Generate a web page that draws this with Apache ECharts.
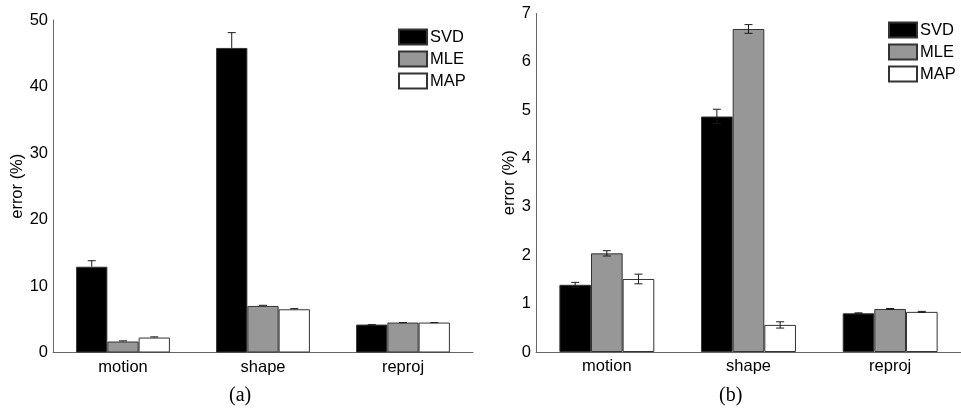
<!DOCTYPE html>
<html>
<head>
<meta charset="utf-8">
<script src="https://cdn.jsdelivr.net/npm/echarts@6/dist/echarts.min.js"></script>
<style>html,body{margin:0;padding:0;background:#fff}#c{width:961px;height:416px}</style>
</head>
<body>
<div id="c"></div>
<script>
const categories = ['motion', 'shape', 'reproj'];
const seriesNames = ['SVD', 'MLE', 'MAP'];

// panel (a)
const aSVD = [12.9, 45.8, 4.2];
const aSVDErr = [0.9, 2.3, 0.0];
const aMLE = [1.65, 7.0, 4.5];
const aMLEErr = [0.1, 0.1, 0.0];
const aMAP = [2.25, 6.5, 4.5];
const aMAPErr = [0.1, 0.1, 0.0];

// panel (b)
const bSVD = [1.39, 4.87, 0.80];
const bSVDErr = [0.05, 0.15, 0.01];
const bMLE = [2.04, 6.68, 0.89];
const bMLEErr = [0.055, 0.09, 0.01];
const bMAP = [1.51, 0.56, 0.83];
const bMAPErr = [0.1, 0.065, 0.01];

const yTicksA = {min: 0, max: 50, interval: 10};
const yTicksB = {min: 0, max: 7, interval: 1};

const fills = ['#000000', '#979797', '#ffffff'];
const CAT_GAP = 0.33;

const font = 'Liberation Sans, Arial, Helvetica, sans-serif';
const FS = 16.5;

function barSeries(name, data, idx, color) {
  return {
    type: 'bar', name: name, xAxisIndex: idx, yAxisIndex: idx,
    data: data, barGap: '0%', barCategoryGap: (CAT_GAP * 100) + '%',
    itemStyle: {color: color, borderColor: '#333', borderWidth: 1},
    emphasis: {disabled: true}, z: 2
  };
}

function errSeries(vals, errs, idx, pos, upOnly) {
  return {
    type: 'custom', xAxisIndex: idx, yAxisIndex: idx, z: 5, silent: true,
    data: vals.map((v, i) => [i, v, errs[i]]),
    renderItem: function (params, api) {
      const i = api.value(0), v = api.value(1), e = api.value(2);
      const band = api.size([1, 0])[0];
      const bw = band * (1 - CAT_GAP) / 3;
      const off = (pos - 1) * bw;
      const top = api.coord([i, v + e]);
      const bot = api.coord([i, upOnly ? v : v - e]);
      const x = top[0] + off;
      const cap = 4;
      const st = {stroke: '#1a1a1a', lineWidth: 1};
      const kids = [
        {type: 'line', shape: {x1: x, y1: top[1], x2: x, y2: bot[1]}, style: st},
        {type: 'line', shape: {x1: x - cap, y1: top[1], x2: x + cap, y2: top[1]}, style: st}
      ];
      if (!upOnly) kids.push({type: 'line', shape: {x1: x - cap, y1: bot[1], x2: x + cap, y2: bot[1]}, style: st});
      return {type: 'group', children: kids};
    }
  };
}

function xAxis(idx) {
  return {
    type: 'category', gridIndex: idx, data: categories,
    axisLine: {lineStyle: {color: '#666', width: 1}},
    axisTick: {show: false},
    axisLabel: {color: '#000', fontSize: FS, fontFamily: font, margin: 6},
    splitLine: {show: false}
  };
}

function yAxis(idx, t, gap) {
  return {
    type: 'value', gridIndex: idx, min: t.min, max: t.max, interval: t.interval,
    name: 'error (%)', nameLocation: 'middle', nameRotate: 90, nameGap: gap,
    nameTextStyle: {color: '#000', fontSize: FS, fontFamily: font},
    axisLine: {show: true, lineStyle: {color: '#666', width: 1}},
    axisTick: {show: false},
    axisLabel: {color: '#000', fontSize: FS, fontFamily: font, margin: 5},
    splitLine: {show: false}
  };
}

function legend(left, top) {
  return {
    data: seriesNames, orient: 'vertical', left: left, top: top,
    itemWidth: 28, itemHeight: 15, itemGap: 5, padding: 0,
    icon: 'rect', selectedMode: false,
    textStyle: {color: '#000', fontSize: FS, fontFamily: font, padding: [0, 0, 0, -2]}
  };
}

const chart = echarts.init(document.getElementById('c'), null, {renderer: 'canvas'});
chart.setOption({
  animation: false,
  backgroundColor: '#fff',
  grid: [
    {left: 53, top: 20, right: 488, bottom: 63.5},
    {left: 536, top: 13.5, right: -6, bottom: 64}
  ],
  xAxis: [xAxis(0), xAxis(1)],
  yAxis: [yAxis(0, yTicksA, 26), yAxis(1, yTicksB, 15)],
  legend: [legend(398, 28.5), legend(888, 21.5)],
  graphic: [
    {type: 'text', left: 229, top: 386, style: {text: '(a)', fontSize: 20, fontFamily: 'Liberation Serif, Times New Roman, serif', fill: '#000'}},
    {type: 'text', left: 719, top: 386, style: {text: '(b)', fontSize: 20, fontFamily: 'Liberation Serif, Times New Roman, serif', fill: '#000'}}
  ],
  series: [
    barSeries('SVD', aSVD, 0, fills[0]),
    barSeries('MLE', aMLE, 0, fills[1]),
    barSeries('MAP', aMAP, 0, fills[2]),
    barSeries('SVD', bSVD, 1, fills[0]),
    barSeries('MLE', bMLE, 1, fills[1]),
    barSeries('MAP', bMAP, 1, fills[2]),
    errSeries(aSVD, aSVDErr, 0, 0, true),
    errSeries(aMLE, aMLEErr, 0, 1, true),
    errSeries(aMAP, aMAPErr, 0, 2, true),
    errSeries(bSVD, bSVDErr, 1, 0, false),
    errSeries(bMLE, bMLEErr, 1, 1, false),
    errSeries(bMAP, bMAPErr, 1, 2, false)
  ]
});
</script>
</body>
</html>
